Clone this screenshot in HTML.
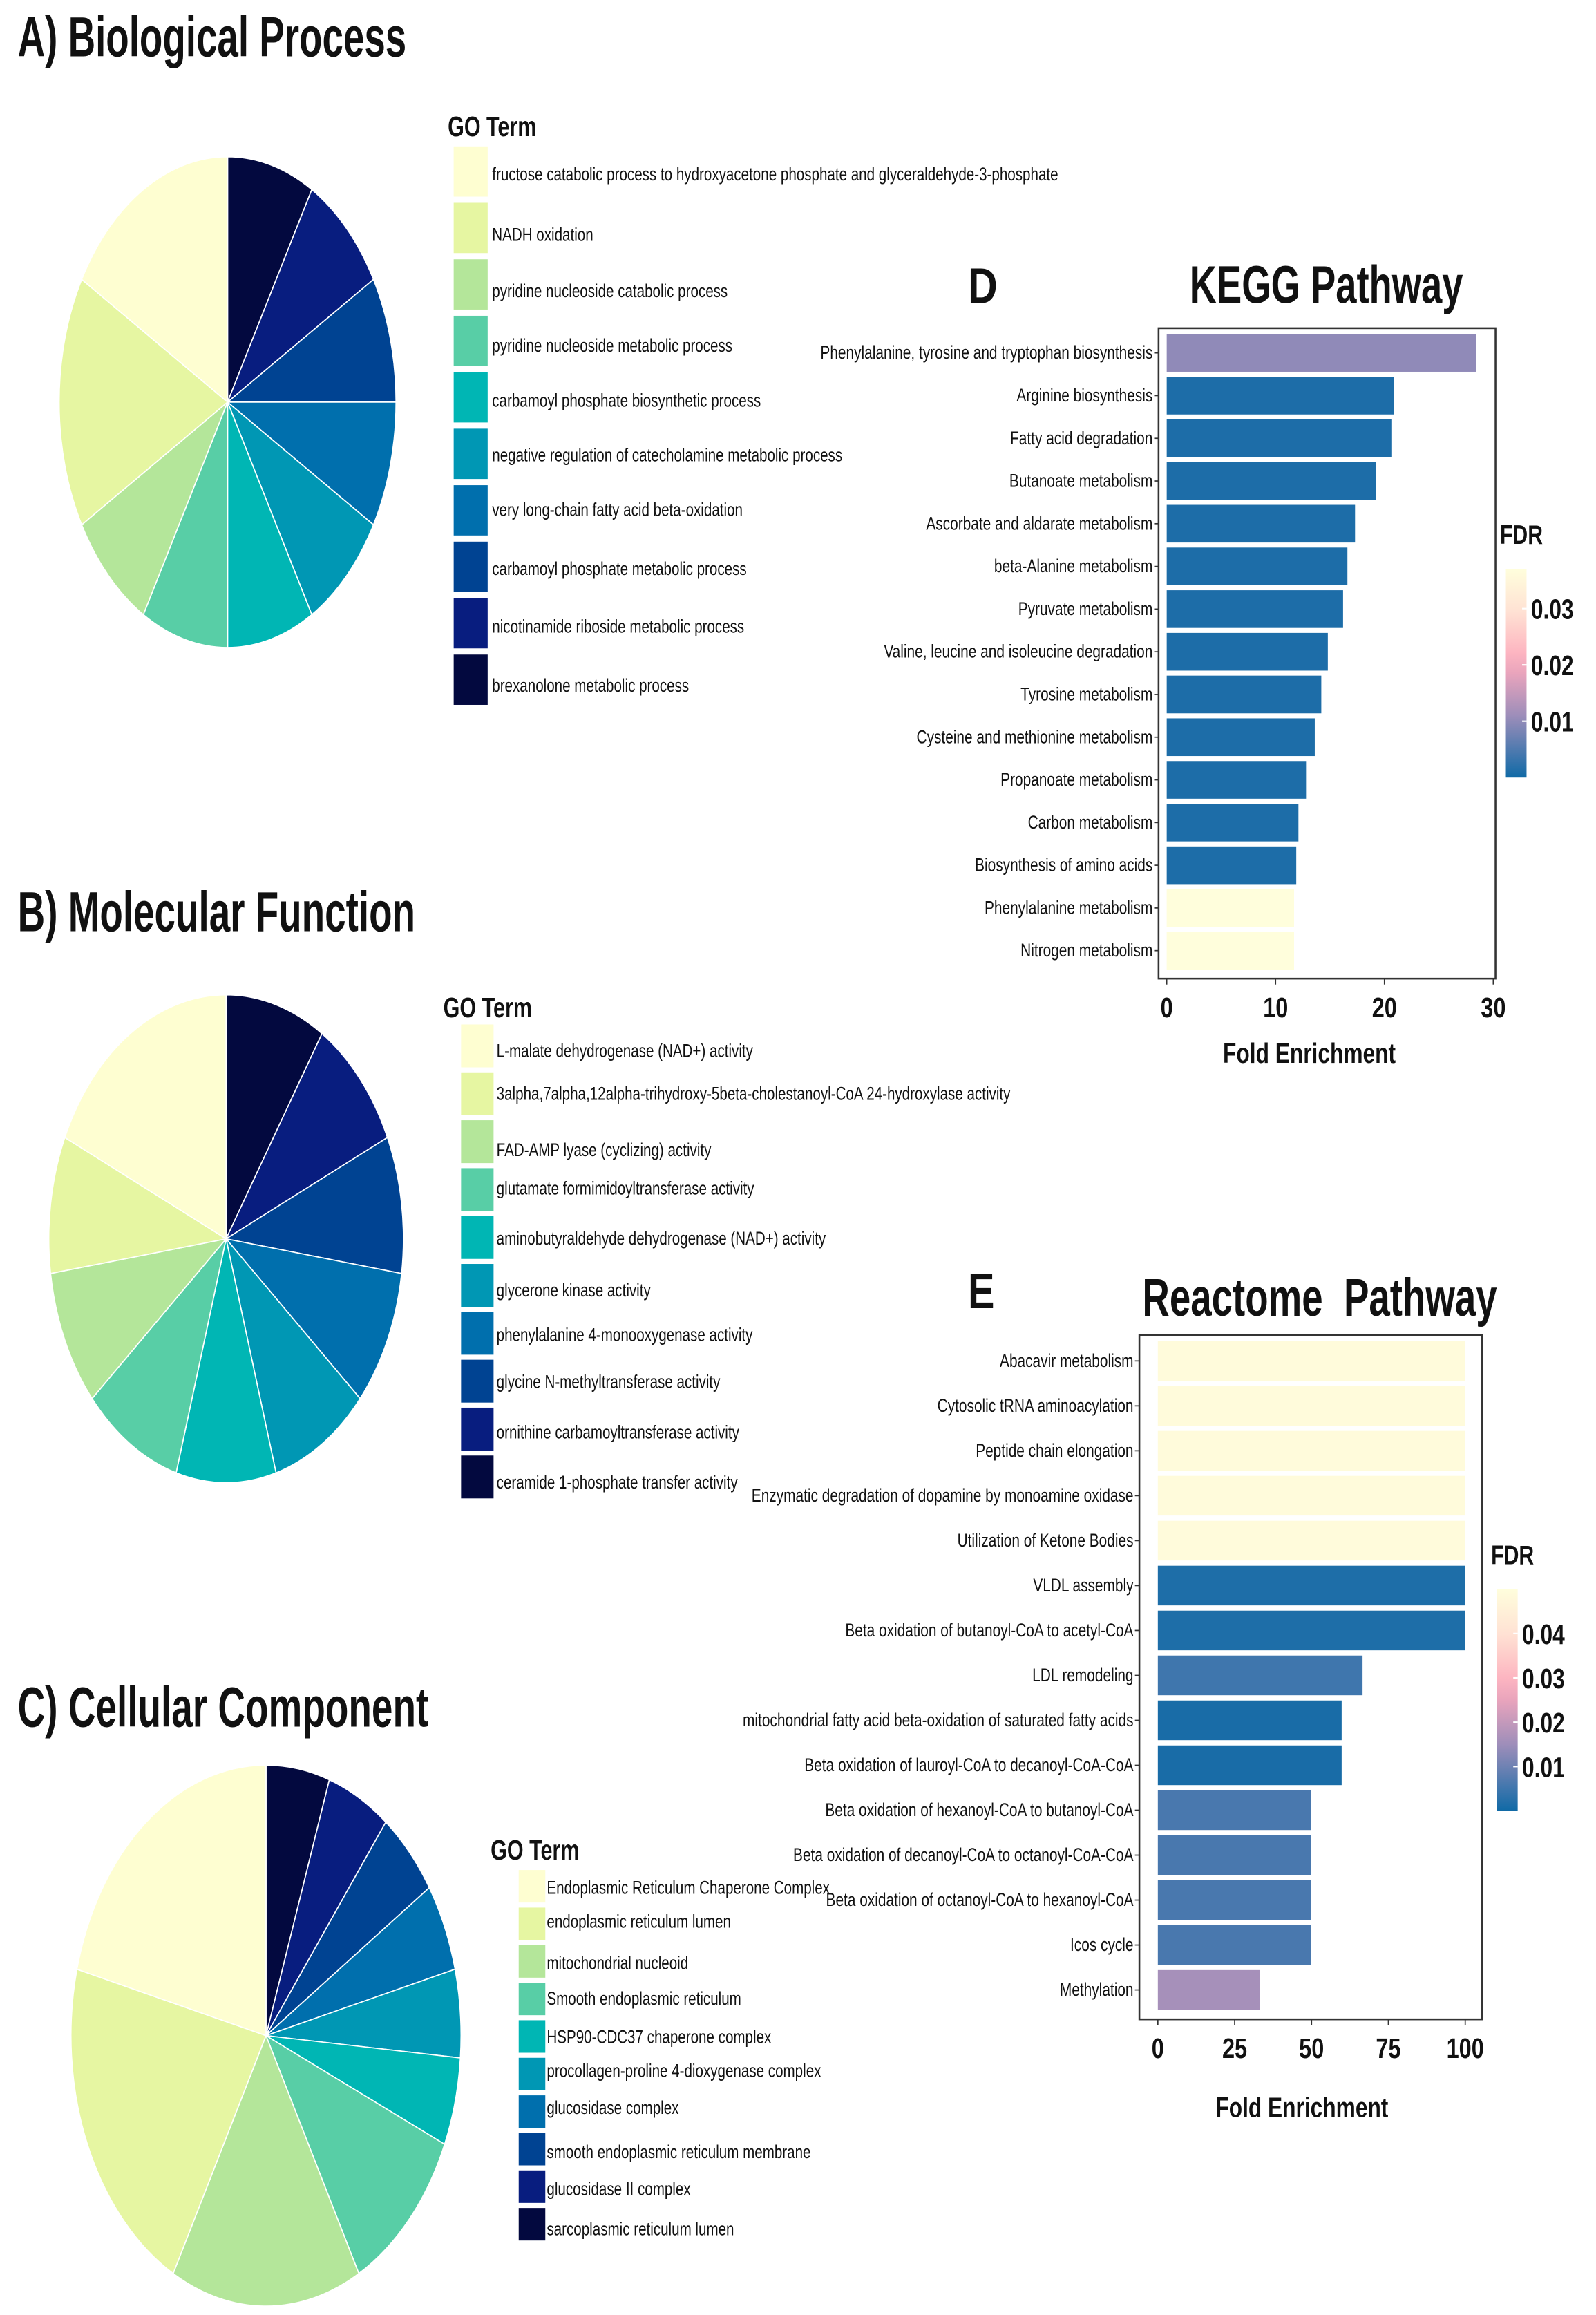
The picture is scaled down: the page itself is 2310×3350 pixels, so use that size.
<!DOCTYPE html>
<html><head><meta charset="utf-8">
<style>
html,body{margin:0;padding:0;background:#fff;}
svg{display:block;}
text{font-family:"Liberation Sans",sans-serif;fill:#111;}
</style></head>
<body>
<svg id="fig" width="2310" height="3350" viewBox="0 0 1080 1566" preserveAspectRatio="none" xmlns="http://www.w3.org/2000/svg">
<rect x="0" y="0" width="1080" height="1566" fill="#fff"/>
</svg>
<script>
// ---------- data ----------
const palette = ['#fefed1','#e6f6a2','#b4e69a','#58cea6','#00b6b4','#0097b4','#006fad','#004392','#081d7f','#03093f'];

const bpTerms = ['fructose catabolic process to hydroxyacetone phosphate and glyceraldehyde-3-phosphate','NADH oxidation','pyridine nucleoside catabolic process','pyridine nucleoside metabolic process','carbamoyl phosphate biosynthetic process','negative regulation of catecholamine metabolic process','very long-chain fatty acid beta-oxidation','carbamoyl phosphate metabolic process','nicotinamide riboside metabolic process','brexanolone metabolic process'];
const bpValues = [2,2,1,1,1,1,1,1,1,1];

const mfTerms = ['L-malate dehydrogenase (NAD+) activity','3alpha,7alpha,12alpha-trihydroxy-5beta-cholestanoyl-CoA 24-hydroxylase activity','FAD-AMP lyase (cyclizing) activity','glutamate formimidoyltransferase activity','aminobutyraldehyde dehydrogenase (NAD+) activity','glycerone kinase activity','phenylalanine 4-monooxygenase activity','glycine N-methyltransferase activity','ornithine carbamoyltransferase activity','ceramide 1-phosphate transfer activity'];
const mfValues = [2,1,1,1,1,1,1,1,1,1];

const ccTerms = ['Endoplasmic Reticulum Chaperone Complex','endoplasmic reticulum lumen','mitochondrial nucleoid','Smooth endoplasmic reticulum','HSP90-CDC37 chaperone complex','procollagen-proline 4-dioxygenase complex','glucosidase complex','smooth endoplasmic reticulum membrane','glucosidase II complex','sarcoplasmic reticulum lumen'];
const ccValues = [4,4,3,2,1,1,1,1,1,1];

const keggPathways = ['Phenylalanine, tyrosine and tryptophan biosynthesis','Arginine biosynthesis','Fatty acid degradation','Butanoate metabolism','Ascorbate and aldarate metabolism','beta-Alanine metabolism','Pyruvate metabolism','Valine, leucine and isoleucine degradation','Tyrosine metabolism','Cysteine and methionine metabolism','Propanoate metabolism','Carbon metabolism','Biosynthesis of amino acids','Phenylalanine metabolism','Nitrogen metabolism'];
const keggFold = [28.4,20.9,20.7,19.2,17.3,16.6,16.2,14.8,14.2,13.6,12.8,12.1,11.9,11.7,11.7];
const keggFdr = [0.01,0.001,0.001,0.001,0.001,0.001,0.001,0.001,0.001,0.001,0.001,0.001,0.001,0.037,0.037];
const keggTicks = [0,10,20,30];
const keggFdrTicks = [0.01,0.02,0.03];

const reactPathways = ['Abacavir metabolism','Cytosolic tRNA aminoacylation','Peptide chain elongation','Enzymatic degradation of dopamine by monoamine oxidase','Utilization of Ketone Bodies','VLDL assembly','Beta oxidation of butanoyl-CoA to acetyl-CoA','LDL remodeling','mitochondrial fatty acid beta-oxidation of saturated fatty acids','Beta oxidation of lauroyl-CoA to decanoyl-CoA-CoA','Beta oxidation of hexanoyl-CoA to butanoyl-CoA','Beta oxidation of decanoyl-CoA to octanoyl-CoA-CoA','Beta oxidation of octanoyl-CoA to hexanoyl-CoA','Icos cycle','Methylation'];
const reactFold = [100,100,100,100,100,100,100,66.6,59.8,59.8,49.8,49.8,49.8,49.8,33.3];
const reactFdr = [0.049,0.049,0.049,0.049,0.049,0.0015,0.0015,0.005,0.001,0.001,0.006,0.006,0.006,0.006,0.016];
const reactTicks = [0,25,50,75,100];
const reactFdrTicks = [0.01,0.02,0.03,0.04];

// ---------- helpers ----------
const NS = 'http://www.w3.org/2000/svg';
const svg = document.getElementById('fig');
function mk(tag, attrs, parent){
  const e = document.createElementNS(NS, tag);
  for (const k in attrs) e.setAttribute(k, attrs[k]);
  (parent||svg).appendChild(e);
  return e;
}
function txt(x, y, s, size, weight, anchor, sx, parent){
  const t = mk('text', {transform:`translate(${x},${y}) scale(${sx},1)`, 'font-size':size, 'font-weight':weight, 'text-anchor':anchor}, parent);
  t.textContent = s;
  return t;
}
function fitTxt(x, y, s, size, w, parent){
  const t = mk('text', {x:x, y:y, 'font-size':size, 'font-weight':'bold', textLength:w, lengthAdjust:'spacingAndGlyphs'}, parent);
  t.textContent = s;
  return t;
}
// FDR colour scale (blue -> purple -> pink -> pale yellow)
const stops = [[0,[16,106,166]],[0.3,[158,142,186]],[0.55,[252,170,188]],[0.8,[255,226,212]],[1,[255,254,220]]];
function fdrColor(v, max){
  let f = Math.max(0, Math.min(1, v/max));
  for (let i=1;i<stops.length;i++){
    if (f<=stops[i][0]){
      const a=stops[i-1], b=stops[i], u=(f-a[0])/(b[0]-a[0]);
      const c=a[1].map((q,j)=>Math.round(q+(b[1][j]-q)*u));
      return `rgb(${c[0]},${c[1]},${c[2]})`;
    }
  }
  return 'rgb(255,254,220)';
}

// ---------- pies ----------
function pie(cfg){
  const g = mk('g', {});
  
  
  const total = cfg.values.reduce((a,b)=>a+b,0);
  let a0 = 0;
  for (let k=cfg.values.length-1;k>=0;k--){
    const a1 = a0 + cfg.values[k]/total*2*Math.PI;
    const x0 = cfg.cx + cfg.rx*Math.sin(a0), y0 = cfg.cy - cfg.ry*Math.cos(a0);
    const x1 = cfg.cx + cfg.rx*Math.sin(a1), y1 = cfg.cy - cfg.ry*Math.cos(a1);
    const large = (a1-a0)>Math.PI?1:0;
    const p = mk('path', {d:`M${cfg.cx},${cfg.cy} L${x0},${y0} A${cfg.rx},${cfg.ry} 0 ${large} 1 ${x1},${y1} Z`, fill:palette[k], stroke:'#fff', 'stroke-width':0.8}, g);
    
    
    a0 = a1;
  }
  const lg = mk('g', {});
  
  
  const ht = fitTxt(cfg.titleX, cfg.titleY, 'GO Term', 19, 60, lg);
  
  
  cfg.terms.forEach((t,i)=>{
    const r = mk('rect', {x:cfg.lx, y:cfg.sy0 + i*cfg.sstep, width:cfg.sw, height:cfg.sh, fill:palette[i]}, lg);
    
    
    const tt = txt(cfg.tx, cfg.ty[i]+4, t, 12.5, 'normal', 'start', 0.77, lg);
    
    
  });
}

let tt;
tt = fitTxt(12, 38, 'A) Biological Process', 38, 263);
 
tt = fitTxt(12, 630, 'B) Molecular Function', 38, 269);
 
tt = fitTxt(12, 1168, 'C) Cellular Component', 38, 278);
 

pie({name:'biological-process-pie', values:bpValues, terms:bpTerms, cx:154, cy:272, rx:114, ry:166,
  lx:307, sw:23, sy0:99, sstep:38.2, sh:34, tx:333, titleX:303, titleY:92,
  ty:[118,159,197,234,271,308,345,385,424,464]});
pie({name:'molecular-function-pie', values:mfValues, terms:mfTerms, cx:153, cy:838, rx:120, ry:165,
  lx:312, sw:22, sy0:693, sstep:32.4, sh:29, tx:336, titleX:300, titleY:688,
  ty:[711,740,778,804,838,873,903,935,969,1003]});
pie({name:'cellular-component-pie', values:ccValues, terms:ccTerms, cx:180, cy:1377, rx:132, ry:183,
  lx:351, sw:18, sy0:1265, sstep:25.4, sh:22, tx:370, titleX:332, titleY:1258,
  ty:[1277,1300,1328,1352,1378,1401,1426,1456,1481,1508]});

// ---------- bar charts ----------
function barChart(cfg){
  const g = mk('g', {});
  
  
  const xs = v => cfg.x0 + (v-cfg.dmin)/(cfg.dmax-cfg.dmin)*(cfg.x1-cfg.x0);
  const n = cfg.labels.length;
  const h = cfg.bottom - cfg.top;
  const ys = i => cfg.top + h*(0.038 + i*(0.957-0.038)/(n-1));
  const bh = h*0.058;
  cfg.labels.forEach((lab,i)=>{
    const y = ys(i);
    const b = mk('rect', {x:xs(0), y:y-bh/2, width:xs(cfg.values[i])-xs(0), height:bh, fill:fdrColor(cfg.fdr[i], cfg.fdrMax)}, g);
    
    
    mk('line', {x1:cfg.left-3, x2:cfg.left, y1:y, y2:y, stroke:'#333', 'stroke-width':0.8}, g);
    const l = txt(cfg.left-4, y+4, lab, 12.5, 'normal', 'end', 0.78, g);
    
    
  });
  const box = mk('rect', {x:cfg.left, y:cfg.top, width:cfg.right-cfg.left, height:cfg.bottom-cfg.top, fill:'none', stroke:'#333', 'stroke-width':1.2}, g);
  
  
  cfg.ticks.forEach(t=>{
    mk('line', {x1:xs(t), x2:xs(t), y1:cfg.bottom, y2:cfg.bottom+4, stroke:'#333', 'stroke-width':0.8}, g);
    const l = txt(xs(t), cfg.bottom+26, String(t), 19, 'bold', 'middle', 0.8, g);
    
    
  });
  const xt = txt(cfg.xtX, cfg.xtY, 'Fold Enrichment', 19, 'bold', 'middle', 0.78, g);
  
  
  const cb = mk('g', {}, g);
  
  
  const gid = cfg.name+'-grad';
  const defs = mk('defs', {}, cb);
  const lgr = mk('linearGradient', {id:gid, x1:0, y1:1, x2:0, y2:0}, defs);
  for (let k=0;k<=10;k++) mk('stop', {offset:k/10, 'stop-color':fdrColor(cfg.fdrMax*k/10, cfg.fdrMax)}, lgr);
  mk('rect', {x:cfg.cbX, y:cfg.cbTop, width:14, height:cfg.cbBot-cfg.cbTop, fill:`url(#${gid})`}, cb);
  const ft = fitTxt(cfg.cbX-4, cfg.cbTop-17, 'FDR', 18, 29, cb);
  
  
  const cy = v => cfg.cbBot - (v-cfg.cbMin)/(cfg.fdrMax-cfg.cbMin)*(cfg.cbBot-cfg.cbTop);
  cfg.fdrTicks.forEach(v=>{
    mk('line', {x1:cfg.cbX+11, x2:cfg.cbX+14, y1:cy(v), y2:cy(v), stroke:'#fff', 'stroke-width':1}, cb);
    const l = txt(cfg.cbX+17, cy(v)+7, v.toFixed(2), 19, 'bold', 'start', 0.78, cb);
    
    
  });
}

tt = fitTxt(655, 205, 'D', 34, 20);
 
tt = fitTxt(805, 205, 'KEGG Pathway', 36, 185);
 
barChart({name:'kegg-pathway-chart', labels:keggPathways, values:keggFold, fdr:keggFdr, fdrMax:0.037, cbMin:0.0,
  left:784, right:1012, top:222, bottom:662, x0:789.5, x1:1010.5, dmin:0, dmax:30, ticks:keggTicks,
  xtX:886, xtY:719, cbX:1019, cbTop:385, cbBot:526, fdrTicks:keggFdrTicks});

tt = fitTxt(655, 885, 'E', 34, 18);
 
tt = fitTxt(773, 890, 'Reactome\u00a0\u00a0Pathway', 36, 240);
 
barChart({name:'reactome-pathway-chart', labels:reactPathways, values:reactFold, fdr:reactFdr, fdrMax:0.05, cbMin:0.0,
  left:771, right:1003, top:903, bottom:1366, x0:783.5, x1:991.5, dmin:0, dmax:100, ticks:reactTicks,
  xtX:881, xtY:1432, cbX:1013, cbTop:1075, cbBot:1225, fdrTicks:reactFdrTicks});
</script>
</body></html>
